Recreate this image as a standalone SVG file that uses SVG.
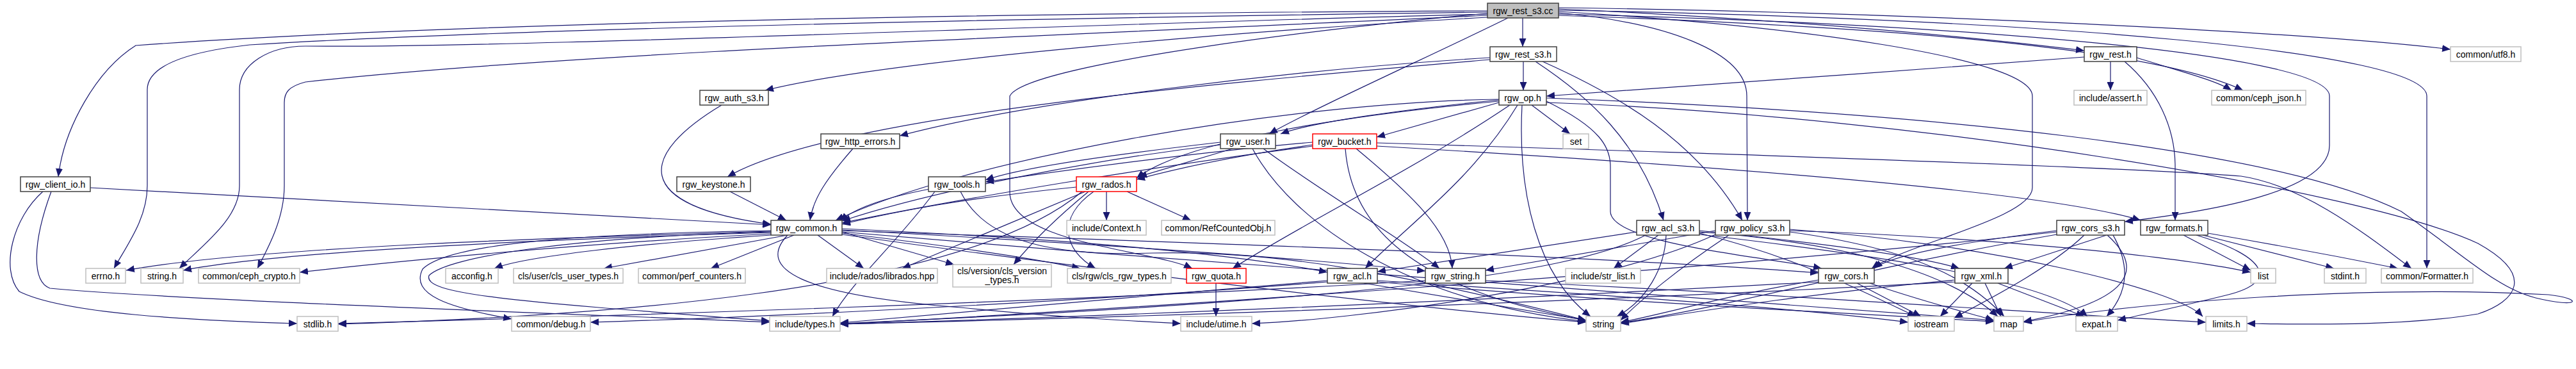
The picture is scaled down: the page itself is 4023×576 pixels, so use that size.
<svg xmlns="http://www.w3.org/2000/svg" width="4023" height="576" viewBox="0 0 4023 576">
<style>
.e{fill:none;stroke:#191970;stroke-width:1.2;marker-end:url(#a)}
.n rect{fill:#fff;stroke:#404040;stroke-width:1.5}
.x rect{fill:#fff;stroke:#bfbfbf;stroke-width:1.5}
.r rect{fill:#fff;stroke:#ff0000;stroke-width:1.5}
.root rect{fill:#bfbfbf;stroke:#404040;stroke-width:1.5}
text{font-family:"Liberation Sans",Arial,Helvetica,sans-serif;font-size:14px;text-anchor:middle;fill:#000}
</style>
<defs>
<marker id="a" markerUnits="userSpaceOnUse" markerWidth="13" markerHeight="11" refX="13" refY="5.5" orient="auto"><path d="M0,0 L13,5.5 L0,11 z" fill="#191970"/></marker>
</defs>
<rect width="4023" height="576" fill="#fff"/>
<g id="edges">
<path class="e" d="M2378,28 L2378,73"/>
<path class="e" d="M2323,17 C1600,20 700,35 212,71 C150,110 100,200 91,276"/>
<path class="e" d="M2323,19 C1500,30 800,45 390,70 C300,80 230,100 230,140 L230,290 C230,340 200,380 178,419"/>
<path class="e" d="M2323,22 C1600,40 800,75 477,72 C420,72 374,100 374,140 L374,290 C374,340 320,380 280,419"/>
<path class="e" d="M2323,24 C1800,50 900,80 477,128 C450,135 444,145 444,160 L444,290 C444,340 420,385 402,419"/>
<path class="e" d="M2323,27 C2000,45 1400,90 1195,141"/>
<path class="e" d="M2355,28 C2250,80 2050,170 1982,209"/>
<path class="e" d="M2323,21 C2100,40 1600,100 1577,150 L1577,300 C1577,380 1800,390 1862,419"/>
<path class="e" d="M2434,14 C2800,30 3100,60 3255,79"/>
<path class="e" d="M2434,20 C2600,35 2728,80 2728,150 L2729,344"/>
<path class="e" d="M2434,18 C2800,40 3174,90 3174,150 L3174,293 C3174,340 2980,380 2923,419"/>
<path class="e" d="M2434,22 C3000,35 3638,80 3638,150 L3638,227 C3638,300 3450,330 3318,346"/>
<path class="e" d="M2434,16 C3200,30 3790,80 3790,150 L3790,419"/>
<path class="e" d="M2434,12 C3000,20 3600,50 3827,77"/>
<path class="e" d="M2434,24 C2900,40 3350,70 3503,141"/>
<path class="e" d="M2379,96 L2379,141"/>
<path class="e" d="M2327,90 C2000,110 1600,160 1405,212"/>
<path class="e" d="M2327,93 C1900,130 1300,180 1136,276"/>
<path class="e" d="M2398,96 C2480,150 2560,220 2598,344"/>
<path class="e" d="M2409,96 C2530,150 2650,220 2721,344"/>
<path class="e" d="M2392,164 L2452,209"/>
<path class="e" d="M2377,164 C2370,300 2400,430 2484,494"/>
<path class="e" d="M2370,164 C2300,280 2200,350 2132,419"/>
<path class="e" d="M2358,164 C2200,270 2050,340 1925,419"/>
<path class="e" d="M2341,160 L2150,214"/>
<path class="e" d="M2341,156 C2200,170 2050,190 2000,209"/>
<path class="e" d="M2341,158 C2100,180 1850,220 1775,278"/>
<path class="e" d="M2341,155 C2000,160 1500,250 1305,344"/>
<path class="e" d="M2415,158 C2500,200 2515,230 2515,260 L2515,330 C2515,380 2750,400 2845,419"/>
<path class="e" d="M2415,153 C3000,175 3550,230 3750,330 C3850,400 3900,450 3960,465 C4030,482 4035,466 3980,460 C3700,445 3350,470 3160,503"/>
<path class="e" d="M2415,160 C3000,180 3700,300 3870,380 C3960,430 3930,470 3870,490 C3750,510 3600,506 3509,505"/>
<path class="e" d="M3296,96 L3296,141"/>
<path class="e" d="M3255,89 C3000,110 2600,135 2415,150"/>
<path class="e" d="M3318,96 C3370,140 3397,200 3397,260 L3397,344"/>
<path class="e" d="M3337,90 C3400,110 3460,125 3485,141"/>
<path class="e" d="M1127,164 C1000,240 980,320 1204,350"/>
<path class="e" d="M1140,299 L1228,344"/>
<path class="e" d="M1332,232 C1290,280 1270,310 1265,344"/>
<path class="e" d="M141,293 L1204,351"/>
<path class="e" d="M67,299 C20,340 0,420 30,455 C100,490 300,500 464,505"/>
<path class="e" d="M80,299 C50,380 50,440 78,450 C300,470 900,490 1202,503"/>
<path class="e" d="M1204,361 C900,370 400,385 197,422"/>
<path class="e" d="M1204,363 C900,372 450,390 286,422"/>
<path class="e" d="M1204,365 C900,380 600,410 468,425"/>
<path class="e" d="M1204,367 C1000,380 820,400 772,419"/>
<path class="e" d="M1230,367 L943,419"/>
<path class="e" d="M1240,367 L1110,419"/>
<path class="e" d="M1277,367 L1349,419"/>
<path class="e" d="M1315,362 L1490,413"/>
<path class="e" d="M1315,364 C1450,380 1600,400 1687,419"/>
<path class="e" d="M1315,357 C1600,370 1900,390 2073,425"/>
<path class="e" d="M1315,359 C1700,380 2000,400 2226,423"/>
<path class="e" d="M1315,366 C1700,420 2200,480 2477,503"/>
<path class="e" d="M1315,360 C1900,380 2500,400 2840,426"/>
<path class="e" d="M1315,362 C2000,420 2800,480 3114,500"/>
<path class="e" d="M1204,360 C900,365 700,380 660,420 C640,460 700,480 799,498"/>
<path class="e" d="M1204,362 C900,370 700,400 670,430 C660,460 800,470 1202,501"/>
<path class="e" d="M1230,367 C1180,420 1250,460 1500,480 C1650,495 1750,500 1844,505"/>
<path class="e" d="M1452,295 C1400,305 1340,320 1312,345"/>
<path class="e" d="M1500,299 C1540,380 1650,400 1800,395 C2000,390 2200,430 2477,500"/>
<path class="e" d="M1460,299 C1400,380 1330,440 1300,494"/>
<path class="e" d="M1728,299 L1728,344"/>
<path class="e" d="M1760,299 L1860,344"/>
<path class="e" d="M1695,299 L1409,419"/>
<path class="e" d="M1700,299 C1650,340 1610,380 1583,413"/>
<path class="e" d="M1708,299 C1650,340 1660,390 1711,419"/>
<path class="e" d="M1681,292 C1500,310 1400,330 1315,350"/>
<path class="e" d="M1690,299 C1500,460 900,495 528,506"/>
<path class="e" d="M1925,232 L1778,276"/>
<path class="e" d="M1906,222 C1750,240 1600,260 1539,281"/>
<path class="e" d="M1906,226 C1700,250 1450,300 1315,345"/>
<path class="e" d="M1956,232 C2020,350 2200,470 2477,502"/>
<path class="e" d="M1973,232 C2050,290 2200,380 2248,419"/>
<path class="e" d="M2050,226 C1950,240 1850,260 1775,280"/>
<path class="e" d="M2050,222 C1900,235 1700,260 1539,284"/>
<path class="e" d="M2050,228 C1800,260 1500,310 1315,348"/>
<path class="e" d="M2101,232 C2110,350 2200,450 2477,500"/>
<path class="e" d="M2118,232 C2200,300 2265,360 2268,419"/>
<path class="e" d="M2150,223 C2700,240 3300,260 3500,275 C3600,290 3700,370 3766,419"/>
<path class="e" d="M2150,228 C2700,260 3200,300 3343,344"/>
<path class="e" d="M2590,367 L2520,419"/>
<path class="e" d="M2602,367 C2600,420 2570,470 2525,494"/>
<path class="e" d="M2556,362 L2151,424"/>
<path class="e" d="M2654,364 C2800,400 2900,450 2992,494"/>
<path class="e" d="M2654,362 C2900,380 3050,430 3120,494"/>
<path class="e" d="M2654,366 C2950,400 3200,440 3260,494"/>
<path class="e" d="M2654,360 C2850,380 3000,400 3060,419"/>
<path class="e" d="M2570,367 C2450,430 2100,470 1312,505"/>
<path class="e" d="M2679,360 L2320,422"/>
<path class="e" d="M2700,367 C2620,420 2560,470 2531,500"/>
<path class="e" d="M2679,366 C2500,450 2100,500 1955,505"/>
<path class="e" d="M2795,358 C3100,380 3400,450 3440,494"/>
<path class="e" d="M2795,362 C3000,390 3080,440 3130,494"/>
<path class="e" d="M2795,360 C3100,370 3400,400 3515,425"/>
<path class="e" d="M3212,360 C3050,380 2950,400 2927,419"/>
<path class="e" d="M3290,367 L3130,419"/>
<path class="e" d="M3291,367 C3350,420 3330,470 3160,502"/>
<path class="e" d="M3255,367 C3200,420 3100,470 3052,496"/>
<path class="e" d="M3300,367 C3330,420 3320,460 3290,494"/>
<path class="e" d="M3212,362 C2700,420 1800,480 1312,506"/>
<path class="e" d="M3212,366 C2900,420 2700,480 2531,504"/>
<path class="e" d="M3410,367 L3515,422"/>
<path class="e" d="M3440,367 L3645,419"/>
<path class="e" d="M3448,364 C3600,390 3700,410 3745,419"/>
<path class="e" d="M3430,367 C3540,400 3560,440 3480,460 C3420,475 3350,490 3307,500"/>
<path class="e" d="M2900,442 L3000,494"/>
<path class="e" d="M2920,442 C3000,470 3080,490 3114,500"/>
<path class="e" d="M2840,437 C2700,460 2600,490 2531,503"/>
<path class="e" d="M2840,440 C2300,470 1700,495 1312,506"/>
<path class="e" d="M3080,442 L3030,494"/>
<path class="e" d="M3100,442 L3125,494"/>
<path class="e" d="M3120,442 L3255,494"/>
<path class="e" d="M3053,437 C2800,460 2600,495 2531,505"/>
<path class="e" d="M3053,440 C2500,470 1800,495 1312,506"/>
<path class="e" d="M2130,442 L2477,500"/>
<path class="e" d="M2151,440 C2500,470 2900,490 3114,502"/>
<path class="e" d="M2151,438 C2500,460 2800,480 2980,503"/>
<path class="e" d="M2073,438 C1800,460 1500,490 1312,504"/>
<path class="e" d="M2073,440 C1700,470 1200,495 922,503"/>
<path class="e" d="M2226,438 C1700,470 900,495 528,505"/>
<path class="e" d="M2320,438 C2800,460 3200,490 3445,503"/>
<path class="e" d="M1899,442 L1899,494"/>
</g>
<g id="n_rgw_rest_s3_cc" class="root"><rect x="2323" y="5" width="111" height="23"/><text x="2378.5" y="21.5">rgw_rest_s3.cc</text></g>
<g id="n_rgw_rest_s3_h" class="n"><rect x="2327" y="73" width="104" height="23"/><text x="2379" y="89.5">rgw_rest_s3.h</text></g>
<g id="n_rgw_rest_h" class="n"><rect x="3255" y="73" width="82" height="23"/><text x="3296" y="89.5">rgw_rest.h</text></g>
<g id="n_common_utf8_h" class="x"><rect x="3827" y="73" width="110" height="23"/><text x="3882" y="89.5">common/utf8.h</text></g>
<g id="n_rgw_auth_s3_h" class="n"><rect x="1093" y="141" width="107" height="23"/><text x="1146.5" y="157.5">rgw_auth_s3.h</text></g>
<g id="n_rgw_op_h" class="n"><rect x="2341" y="141" width="74" height="23"/><text x="2378" y="157.5">rgw_op.h</text></g>
<g id="n_include_assert_h" class="x"><rect x="3239" y="141" width="114" height="23"/><text x="3296" y="157.5">include/assert.h</text></g>
<g id="n_common_ceph_json_h" class="x"><rect x="3454" y="141" width="147" height="23"/><text x="3527.5" y="157.5">common/ceph_json.h</text></g>
<g id="n_rgw_http_errors_h" class="n"><rect x="1282" y="209" width="123" height="23"/><text x="1343.5" y="225.5">rgw_http_errors.h</text></g>
<g id="n_rgw_user_h" class="n"><rect x="1906" y="209" width="86" height="23"/><text x="1949" y="225.5">rgw_user.h</text></g>
<g id="n_rgw_bucket_h" class="r"><rect x="2050" y="209" width="100" height="23"/><text x="2100" y="225.5">rgw_bucket.h</text></g>
<g id="n_set" class="x"><rect x="2441" y="209" width="40" height="23"/><text x="2461" y="225.5">set</text></g>
<g id="n_rgw_client_io_h" class="n"><rect x="32" y="276" width="109" height="23"/><text x="86.5" y="292.5">rgw_client_io.h</text></g>
<g id="n_rgw_keystone_h" class="n"><rect x="1057" y="276" width="115" height="23"/><text x="1114.5" y="292.5">rgw_keystone.h</text></g>
<g id="n_rgw_tools_h" class="n"><rect x="1450" y="276" width="89" height="23"/><text x="1494.5" y="292.5">rgw_tools.h</text></g>
<g id="n_rgw_rados_h" class="r"><rect x="1681" y="276" width="94" height="23"/><text x="1728" y="292.5">rgw_rados.h</text></g>
<g id="n_rgw_common_h" class="n"><rect x="1204" y="344" width="111" height="23"/><text x="1259.5" y="360.5">rgw_common.h</text></g>
<g id="n_include_Context_h" class="x"><rect x="1666" y="344" width="124" height="23"/><text x="1728" y="360.5">include/Context.h</text></g>
<g id="n_common_RefCountedObj_h" class="x"><rect x="1814" y="344" width="177" height="23"/><text x="1902.5" y="360.5">common/RefCountedObj.h</text></g>
<g id="n_rgw_acl_s3_h" class="n"><rect x="2556" y="344" width="98" height="23"/><text x="2605" y="360.5">rgw_acl_s3.h</text></g>
<g id="n_rgw_policy_s3_h" class="n"><rect x="2679" y="344" width="116" height="23"/><text x="2737" y="360.5">rgw_policy_s3.h</text></g>
<g id="n_rgw_cors_s3_h" class="n"><rect x="3212" y="344" width="106" height="23"/><text x="3265" y="360.5">rgw_cors_s3.h</text></g>
<g id="n_rgw_formats_h" class="n"><rect x="3343" y="344" width="105" height="23"/><text x="3395.5" y="360.5">rgw_formats.h</text></g>
<g id="n_errno_h" class="x"><rect x="134" y="419" width="62" height="23"/><text x="165" y="435.5">errno.h</text></g>
<g id="n_string_h" class="x"><rect x="220" y="419" width="66" height="23"/><text x="253" y="435.5">string.h</text></g>
<g id="n_common_ceph_crypto_h" class="x"><rect x="310" y="419" width="158" height="23"/><text x="389" y="435.5">common/ceph_crypto.h</text></g>
<g id="n_acconfig_h" class="x"><rect x="696" y="419" width="82" height="23"/><text x="737" y="435.5">acconfig.h</text></g>
<g id="n_cls_user_types_h" class="x"><rect x="802" y="419" width="171" height="23"/><text x="887.5" y="435.5">cls/user/cls_user_types.h</text></g>
<g id="n_common_perf_counters_h" class="x"><rect x="997" y="419" width="167" height="23"/><text x="1080.5" y="435.5">common/perf_counters.h</text></g>
<g id="n_librados_hpp" class="x"><rect x="1291" y="419" width="173" height="23"/><text x="1377.5" y="435.5">include/rados/librados.hpp</text></g>
<g id="n_cls_version_types_h" class="x"><rect x="1488" y="413" width="154" height="35"/><text x="1565" y="428">cls/version/cls_version</text><text x="1565" y="442">_types.h</text></g>
<g id="n_cls_rgw_types_h" class="x"><rect x="1667" y="419" width="162" height="23"/><text x="1748" y="435.5">cls/rgw/cls_rgw_types.h</text></g>
<g id="n_rgw_quota_h" class="r"><rect x="1853" y="419" width="93" height="23"/><text x="1899.5" y="435.5">rgw_quota.h</text></g>
<g id="n_rgw_acl_h" class="n"><rect x="2073" y="419" width="78" height="23"/><text x="2112" y="435.5">rgw_acl.h</text></g>
<g id="n_rgw_string_h" class="n"><rect x="2226" y="419" width="94" height="23"/><text x="2273" y="435.5">rgw_string.h</text></g>
<g id="n_include_str_list_h" class="x"><rect x="2445" y="419" width="117" height="23"/><text x="2503.5" y="435.5">include/str_list.h</text></g>
<g id="n_rgw_cors_h" class="n"><rect x="2840" y="419" width="87" height="23"/><text x="2883.5" y="435.5">rgw_cors.h</text></g>
<g id="n_rgw_xml_h" class="n"><rect x="3053" y="419" width="83" height="23"/><text x="3094.5" y="435.5">rgw_xml.h</text></g>
<g id="n_list" class="x"><rect x="3515" y="419" width="39" height="23"/><text x="3534.5" y="435.5">list</text></g>
<g id="n_stdint_h" class="x"><rect x="3630" y="419" width="65" height="23"/><text x="3662.5" y="435.5">stdint.h</text></g>
<g id="n_common_Formatter_h" class="x"><rect x="3719" y="419" width="143" height="23"/><text x="3790.5" y="435.5">common/Formatter.h</text></g>
<g id="n_stdlib_h" class="x"><rect x="464" y="494" width="64" height="23"/><text x="496" y="510.5">stdlib.h</text></g>
<g id="n_common_debug_h" class="x"><rect x="799" y="494" width="123" height="23"/><text x="860.5" y="510.5">common/debug.h</text></g>
<g id="n_include_types_h" class="x"><rect x="1202" y="494" width="110" height="23"/><text x="1257" y="510.5">include/types.h</text></g>
<g id="n_include_utime_h" class="x"><rect x="1844" y="494" width="111" height="23"/><text x="1899.5" y="510.5">include/utime.h</text></g>
<g id="n_string" class="x"><rect x="2477" y="494" width="54" height="23"/><text x="2504" y="510.5">string</text></g>
<g id="n_iostream" class="x"><rect x="2980" y="494" width="72" height="23"/><text x="3016" y="510.5">iostream</text></g>
<g id="n_map" class="x"><rect x="3114" y="494" width="46" height="23"/><text x="3137" y="510.5">map</text></g>
<g id="n_expat_h" class="x"><rect x="3242" y="494" width="65" height="23"/><text x="3274.5" y="510.5">expat.h</text></g>
<g id="n_limits_h" class="x"><rect x="3445" y="494" width="64" height="23"/><text x="3477" y="510.5">limits.h</text></g>
</svg>
